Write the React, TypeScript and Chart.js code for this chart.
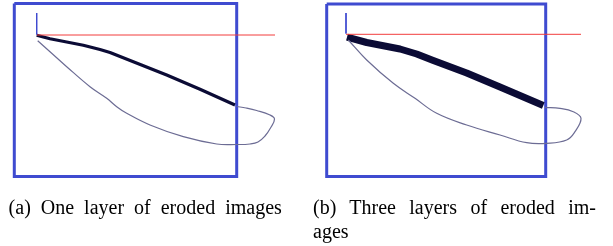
import React, { useEffect, useRef } from "react";
import { Chart, registerables } from "chart.js";

Chart.register(...registerables);

// Panel (a): one layer of eroded images
const frameA: [number, number][] = [[14.3, 3.5], [236.7, 3.5], [236.7, 176.5], [14.3, 176.5], [14.3, 3.5]];
const tickA: [number, number][] = [[36.7, 13], [36.7, 34.5]];
const refLineA: [number, number][] = [[37, 35], [275, 35]];
const erodedA: [number, number][] = [
  [36.7, 35.3], [50, 38.8], [66.7, 42], [83.3, 45.3], [100, 49.5], [110, 52.5],
  [133.3, 61.7], [166.7, 75], [200, 89.3], [235, 105],
];
const outlineA: [number, number][] = [
  [37.7, 40.7], [50, 51.7], [66.7, 66.7], [90, 86.7], [106.7, 98.3], [116.7, 106.7],
  [126.7, 113.3], [150, 125], [183.3, 136.7], [216.7, 144], [236.7, 144.5], [250, 144],
  [258, 142], [265, 136], [270.5, 128], [274.5, 119], [270, 115], [256.7, 110.5],
  [246, 108], [236.7, 106.5],
];

// Panel (b): three layers of eroded images
const frameB: [number, number][] = [[326.7, 4], [545.7, 4], [545.7, 176.5], [326.7, 176.5], [326.7, 4]];
const tickB: [number, number][] = [[346, 13], [346, 33.5]];
const refLineB: [number, number][] = [[346, 34.3], [581, 34.3]];
const erodedB: [number, number][] = [
  [347, 37.2], [366.7, 42.5], [400, 49], [416.7, 54], [433.3, 60.5],
  [466.7, 73], [500, 87], [543.3, 105.5],
];
const outlineB: [number, number][] = [
  [348.3, 40], [366.7, 60], [393.3, 83.3], [415, 98.3], [436.7, 113.3], [466.7, 125],
  [500, 135], [526.7, 142.7], [546.7, 143.3], [566.7, 140], [575, 131.7], [581, 118.3],
  [573.3, 111.7], [560, 108.3], [545, 107.3],
];

const captionA = "(a) One layer of eroded images";
const captionB1 = "(b) Three layers of eroded im-";
const captionB2 = "ages";

const BLUE = "#3f4bd0";
const RED = "#f23c3c";
const DARK = "#0b0b35";
const OUTLINE = "#6c6c94";

const pts = (a: [number, number][]) => a.map(([x, y]) => ({ x, y }));

export default function App() {
  const ref = useRef<HTMLCanvasElement | null>(null);
  useEffect(() => {
    if (!ref.current) return;
    const mk = (data: [number, number][], color: string, width: number, tension = 0) => ({
      data: pts(data),
      showLine: true,
      borderColor: color,
      backgroundColor: color,
      borderWidth: width,
      pointRadius: 0,
      tension,
      fill: false,
      clip: false as any,
      borderJoinStyle: "round" as const,
      borderCapStyle: "butt" as const,
    });
    const chart = new Chart(ref.current, {
      type: "scatter",
      data: {
        datasets: [
          mk(outlineA, OUTLINE, 1.2, 0.4),
          mk(outlineB, OUTLINE, 1.2, 0.4),
          mk(refLineA, RED, 1),
          mk(refLineB, RED, 1),
          mk(tickA, BLUE, 1),
          mk(tickB, BLUE, 1),
          mk(erodedA, DARK, 3.2),
          mk(erodedB, DARK, 7),
          { ...mk(frameA, BLUE, 3), borderJoinStyle: "miter" as const },
          { ...mk(frameB, BLUE, 3), borderJoinStyle: "miter" as const },
        ],
      },
      options: {
        animation: false,
        responsive: false,
        maintainAspectRatio: false,
        layout: { padding: 0 },
        plugins: { legend: { display: false }, tooltip: { enabled: false }, title: { display: false } },
        scales: {
          x: { type: "linear", min: 0, max: 613, display: false },
          y: { type: "linear", min: 0, max: 246, reverse: true, display: false },
        },
      },
    });
    return () => chart.destroy();
  }, []);

  const font: React.CSSProperties = {
    position: "absolute",
    fontFamily: "'Liberation Serif', 'Times New Roman', serif",
    fontSize: "20px",
    lineHeight: "20px",
    color: "#000",
    whiteSpace: "nowrap",
  };

  return (
    <div style={{ position: "fixed", left: 0, top: 0, width: 613, height: 246, background: "#fff", overflow: "hidden" }}>
      <canvas ref={ref} width={613} height={246} style={{ position: "absolute", left: 0, top: 0, width: 613, height: 246 }} />
      <div style={{ ...font, left: 8.6, top: 197.3, wordSpacing: "5px" }}>{captionA}</div>
      <div style={{ ...font, left: 313, top: 197.3, width: 283, textAlign: "justify", textAlignLast: "justify" as any }}>{captionB1}</div>
      <div style={{ ...font, left: 313, top: 221.3 }}>{captionB2}</div>
    </div>
  );
}
